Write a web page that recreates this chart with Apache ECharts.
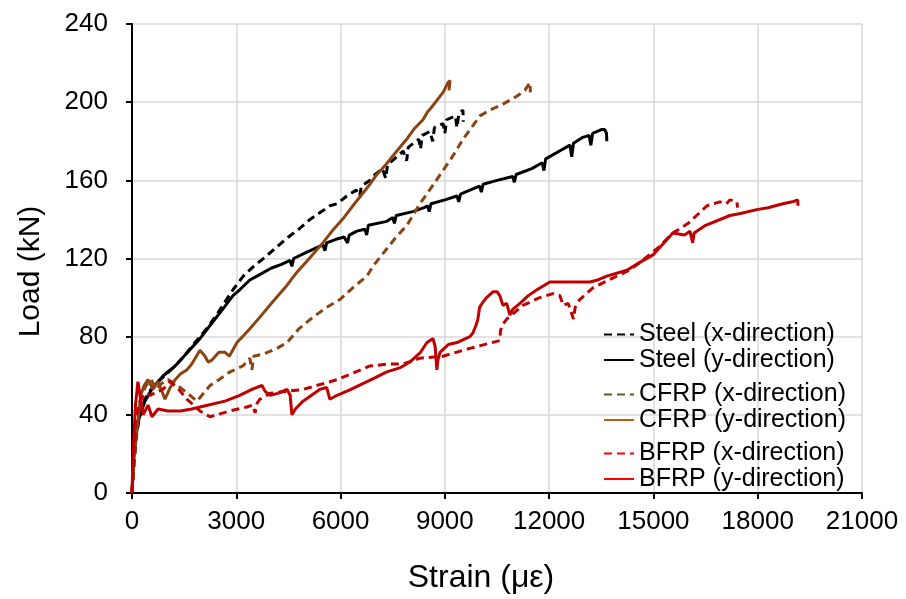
<!DOCTYPE html>
<html>
<head>
<meta charset="utf-8">
<script src="https://cdn.jsdelivr.net/npm/echarts@6/dist/echarts.min.js"></script>
<style>
  html, body { margin: 0; padding: 0; background: #fff; }
  #main { width: 906px; height: 599px; }
</style>
</head>
<body>
<div id="main"></div>
<script>
// 数据：应变 (με) 与 荷载 (kN)
var xTicks = [0, 3000, 6000, 9000, 12000, 15000, 18000, 21000];
var yTicks = [0, 40, 80, 120, 160, 200, 240];

var steelX = [[0,0],[60,15],[120,28],[200,38],[370,48],[550,53],[750,57],[1000,61],[1240,65],[1500,70],[1720,75],[1955,80],[2190,85],[2500,93],[2905,104],[3200,111],[3500,116],[3850,121],[4170,126],[4500,131],[4800,135],[5120,140],[5450,144],[5695,147],[5900,148],[6180,152],[6450,155],[6550,152],[6600,157],[6845,160],[6930,162],[7200,166],[7300,161],[7350,168],[7620,172],[7800,175],[7900,170],[7950,177],[8250,181],[8300,176],[8350,183],[8570,185],[8650,180],[8700,187],[8950,189],[9000,184],[9050,191],[9300,193],[9350,187],[9400,194],[9520,196],[9530,190]];

var steelY = [[0,0],[50,18],[120,30],[200,38],[370,47],[600,54],[900,60],[1240,65],[1600,72],[1955,79],[2300,87],[2650,95],[2905,101],[3100,104],[3390,109],[3700,112],[4000,115],[4300,117],[4545,119],[4600,116],[4650,120],[5000,123],[5490,127],[5550,124],[5600,128],[5900,130],[6100,131],[6200,128],[6250,132],[6470,134],[6700,135],[6750,132],[6800,137],[7330,139],[7500,141],[7550,138],[7600,142],[8080,144],[8400,146],[8500,147],[8550,144],[8600,148],[9000,150],[9350,152],[9400,149],[9450,153],[9720,155],[10000,157],[10050,154],[10100,158],[10500,160],[10950,162],[11000,159],[11050,163],[11500,166],[11800,169],[11850,165],[11900,171],[12300,175],[12600,178],[12650,172],[12700,179],[12970,182],[13150,183],[13200,178],[13250,184],[13500,186],[13600,186],[13650,184],[13660,180]];

var cfrpX = [[0,0],[80,20],[150,38],[250,48],[400,55],[550,58],[700,53],[850,56],[1035,58],[1320,55],[1600,51],[1870,47],[2245,55],[2500,58],[2820,62],[3190,65],[3390,69],[3450,63],[3500,70],[3770,71],[4170,74],[4460,77],[4800,84],[5210,90],[5600,95],[5980,99],[6350,105],[6760,111],[6930,116],[7330,125],[7600,131],[7910,137],[8280,148],[8600,156],[8945,165],[9250,173],[9520,181],[10010,193],[10300,196],[10670,199],[11070,203],[11300,206],[11450,210],[11460,205]];

var cfrpY = [[0,0],[60,20],[100,28],[180,38],[250,50],[350,55],[460,58],[600,53],[750,57],[950,48],[1100,54],[1240,58],[1400,61],[1580,63],[1720,66],[1955,73],[2100,70],[2190,67],[2300,68],[2500,72],[2675,72],[2800,70],[3020,77],[3340,83],[3680,90],[4055,98],[4400,105],[4745,113],[5100,120],[5490,128],[5800,135],[6100,141],[6400,148],[6845,158],[7045,163],[7300,168],[7620,175],[7900,181],[8100,186],[8370,191],[8500,195],[8600,197],[8860,203],[8950,205],[9090,210],[9150,211],[9120,206]];

var bfrpX = [[0,0],[40,15],[100,35],[200,46],[370,51],[520,50],[750,52],[890,53],[1090,57],[1300,54],[1580,48],[1955,42],[2245,39],[2820,42],[3300,44],[3480,45],[3540,41],[3600,46],[3680,48],[3970,51],[4920,53],[5900,58],[6845,65],[7400,66],[7795,66],[8280,69],[8945,70],[9720,74],[10580,78],[10600,83],[10650,86],[10780,89],[11245,96],[11730,100],[12110,102],[12310,101],[12400,96],[12550,97],[12700,89],[12750,95],[12880,99],[13260,105],[13830,110],[14300,114],[14610,118],[15100,125],[15560,133],[16000,138],[16540,147],[16910,149],[17100,148],[17200,150],[17400,149],[17420,146]];

var bfrpY = [[0,0],[30,20],[100,45],[170,57],[250,48],[320,40],[460,45],[575,39],[750,43],[1035,42],[1400,42],[1720,43],[2200,45],[2675,47],[3100,50],[3450,53],[3740,55],[3830,52],[3970,50],[4200,51],[4460,53],[4550,50],[4600,40],[4700,43],[4920,47],[5400,53],[5600,54],[5690,48],[5900,50],[6300,53],[6640,56],[7000,59],[7330,62],[7700,64],[7995,67],[8300,72],[8485,77],[8660,79],[8720,75],[8770,63],[8800,68],[8860,72],[9100,76],[9350,77],[9720,80],[9810,82],[9900,86],[9950,89],[10000,95],[10070,97],[10200,100],[10390,103],[10500,103],[10580,101],[10670,96],[10780,97],[10870,91],[10950,94],[11160,97],[11400,101],[11650,104],[12020,108],[13170,108],[13400,109],[13660,111],[14235,114],[14610,118],[15000,122],[15560,133],[15900,132],[16050,134],[16130,128],[16170,133],[16500,137],[17200,142],[17500,143],[17970,145],[18300,146],[18720,148],[19000,149],[19150,150],[19160,147]];

var legendNames = ['Steel (x-direction)', 'Steel (y-direction)', 'CFRP (x-direction)', 'CFRP (y-direction)', 'BFRP (x-direction)', 'BFRP (y-direction)'];
var legendColors = ['#000000', '#000000', '#4F6228', '#C55A11', '#FF0000', '#FF0000'];
var legendDashed = [true, false, true, false, true, false];

var FONT = 'Arial, "Liberation Sans", sans-serif';
var myChart = echarts.init(document.getElementById('main'));

function mkSeries(name, data, color, dashed) {
	return {
		name: name,
		type: 'line',
		data: data,
		symbol: 'none',
		animation: false,
		lineStyle: { color: color, width: 3, type: dashed ? [8, 5] : 'solid' },
		itemStyle: { color: color, opacity: 0 }
	};
}

function mkLegend(top, items) {
	return {
		orient: 'vertical',
		left: 603,
		top: top,
		padding: 0,
		itemWidth: 30,
		itemHeight: 10,
		itemGap: 0.5,
		itemTextGap: 6,
		selectedMode: false,
		itemStyle: { opacity: 0, borderWidth: 0 },
		textStyle: { fontSize: 25, lineHeight: 24, color: '#000', fontFamily: FONT },
		data: items
	};
}

// 图例用的空系列（颜色与原图图例一致）
var legendSeries = legendNames.map(function (n, i) {
	return mkSeries(n, [], legendColors[i], legendDashed[i]);
});

var option = {
	backgroundColor: '#fff',
	animation: false,
	grid: { left: 132, right: 44, top: 24, bottom: 105 },
	legend: [
		mkLegend(322, legendNames.slice(0, 2)),
		mkLegend(382, legendNames.slice(2, 4)),
		mkLegend(441, legendNames.slice(4, 6))
	],
	xAxis: {
		type: 'value',
		min: xTicks[0],
		max: xTicks[xTicks.length - 1],
		interval: 3000,
		name: 'Strain (\u03bc\u03b5)',
		nameLocation: 'middle',
		nameGap: 69,
		nameTextStyle: { fontSize: 32, color: '#000', fontFamily: FONT, padding: [0, 32, 0, 0] },
		axisLine: { lineStyle: { color: '#000', width: 2 } },
		axisTick: { show: true, length: 6, lineStyle: { color: '#000', width: 2 } },
		axisLabel: { fontSize: 26, color: '#000', fontFamily: FONT, margin: 16, formatter: function (v) { return String(v); } },
		splitLine: { show: true, lineStyle: { color: '#D9D9D9', width: 1.5 } }
	},
	yAxis: {
		type: 'value',
		min: yTicks[0],
		max: yTicks[yTicks.length - 1],
		interval: 40,
		name: 'Load (kN)',
		nameLocation: 'middle',
		nameGap: 86,
		nameTextStyle: { fontSize: 30, color: '#000', fontFamily: FONT, padding: [0, 26, 0, 0] },
		axisLine: { show: true, lineStyle: { color: '#000', width: 2 } },
		axisTick: { show: true, length: 6, lineStyle: { color: '#000', width: 2 } },
		axisLabel: { fontSize: 26, color: '#000', fontFamily: FONT, margin: 24 },
		splitLine: { show: true, lineStyle: { color: '#D9D9D9', width: 1.5 } }
	},
	series: [
		mkSeries('steelX', steelX, '#000000', true),
		mkSeries('steelY', steelY, '#000000', false),
		mkSeries('cfrpX', cfrpX, '#8B4513', true),
		mkSeries('cfrpY', cfrpY, '#8B4513', false),
		mkSeries('bfrpX', bfrpX, '#C00000', true),
		mkSeries('bfrpY', bfrpY, '#C00000', false)
	].concat(legendSeries)
};
// 使用刚指定的配置项和数据显示图表。
myChart.setOption(option);
</script>
</body>
</html>
